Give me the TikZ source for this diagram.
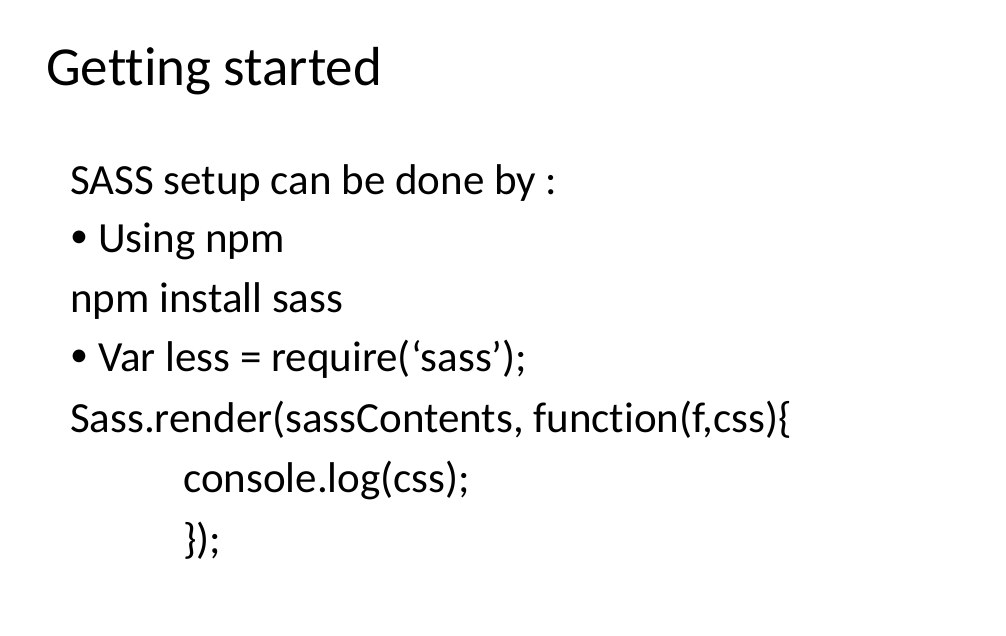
\documentclass[tikz,border=0pt]{standalone}
\usepackage{fontspec}
\setmainfont[Ligatures={NoCommon,NoRare,NoDiscretionary}]{Carlito}
\begin{document}
\begin{tikzpicture}[x=1pt,y=1pt,
  title/.style={anchor=base west,inner sep=0pt,font=\fontsize{55}{60}\selectfont},
  body/.style={anchor=base west,inner sep=0pt,font=\fontsize{43}{50}\selectfont},
  bul/.style={anchor=base west,inner sep=0pt,font=\fontsize{36}{40}\selectfont}]
\fill[white] (0,0) rectangle (1006,635);
\useasboundingbox (0,0) rectangle (1006,635);
\node[title] (t) at (46,549) {Getting started};
\node[body] (l1) at (70,440) {SASS setup can be done by :};
\node[bul] (b1) at (70,387) {•};
\node[body] (l2) at (98,382) {Using npm};
\node[body] (l3) at (70,322) {npm install sass};
\node[bul] (b2) at (70,268) {•};
\node[body] (l4) at (98,263) {Var less = require(‘sass’);};
\node[body] (l5) at (70,203) {Sass.render(sassContents, function(f,css)\{};
\node[body] (l6) at (183,143) {console.log(css);};
\node[body] (l7) at (183,82) {\});};
\end{tikzpicture}
\end{document}
